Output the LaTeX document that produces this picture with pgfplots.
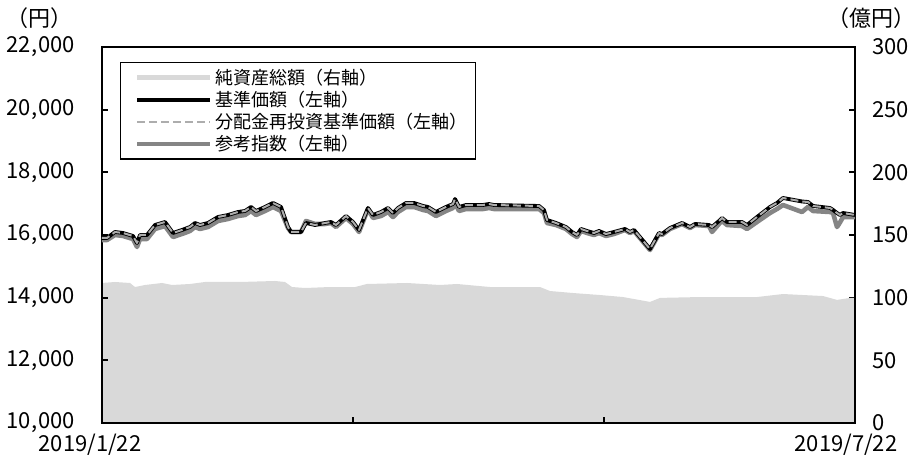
\documentclass[border=0pt]{standalone}
\usepackage{fontspec}
\setmainfont{Noto Sans CJK JP}
\usepackage{pgfplots}
\pgfplotsset{compat=1.18}
\usepackage{pgfplotstable}
\definecolor{areagray}{HTML}{D9D9D9}
\definecolor{refgray}{HTML}{858585}
\definecolor{dashgray}{HTML}{ADADAD}

\pgfplotstableread{
x base ref
0 15904 15840
5 15904 15840
13 16096 16000
21 16064 15968
31 15968 15872
35 15745 15617
38 16000 15872
45 16000 15872
53 16319 16192
63 16415 16287
71 16064 15936
80 16160 16032
88 16255 16128
93 16383 16255
98 16319 16192
106 16383 16255
116 16574 16447
126 16638 16511
136 16734 16606
143 16766 16638
149 16894 16766
154 16766 16638
163 16894 16766
171 17021 16894
179 16894 16766
186 16255 16223
189 16096 16096
199 16096 16096
204 16383 16447
213 16319 16351
223 16383 16351
229 16415 16383
234 16319 16255
244 16606 16543
251 16415 16351
257 16160 16096
266 16862 16830
271 16638 16543
279 16734 16606
286 16862 16734
291 16702 16574
296 16862 16734
304 17021 16894
312 17021 16894
321 16926 16798
326 16894 16766
334 16734 16606
344 16894 16766
351 16989 16862
353 17149 17021
357 16894 16766
364 16957 16830
381 16957 16830
387 16989 16862
392 16957 16830
437 16926 16830
442 16798 16702
445 16479 16383
454 16383 16319
464 16255 16192
470 16096 16032
475 16000 15936
479 16192 16128
485 16128 16064
492 16064 16000
497 16128 16064
504 16032 15968
512 16096 16032
523 16192 16160
528 16096 16064
532 16160 16128
548 15553 15521
557 16064 16032
560 16032 16000
568 16223 16192
580 16383 16351
588 16255 16223
593 16351 16319
607 16319 16287
610 16255 16096
617 16447 16351
620 16543 16447
625 16415 16319
640 16415 16287
645 16319 16192
655 16574 16415
668 16894 16702
675 17021 16830
681 17181 16957
700 17070 16734
706 17053 16894
711 16926 16766
728 16862 16734
731 16800 16702
735 16702 16255
738 16638 16400
741 16702 16574
753 16638 16574
}\prices

\pgfplotstableread{
x nav
0 111.7
13 112.5
28 111.7
33 108.5
43 110.1
60 111.7
70 110.1
88 110.9
103 112.5
138 112.5
173 113.3
183 112.5
190 108.5
203 107.7
228 108.5
253 108.5
265 110.9
305 111.7
338 110.1
355 110.9
388 108.5
438 108.5
448 105.3
471 103.7
498 102.1
521 100.5
548 96.6
558 99.8
598 100.5
655 100.5
681 102.9
721 101.3
735 98.2
748 99.8
753 99.8
}\assets

\begin{document}
\begin{tikzpicture}
\useasboundingbox (-51pt,-18pt) rectangle (407.5pt,211.5pt);
% right axis: net assets
\begin{axis}[
  at={(0,0)}, anchor=south west,
  scale only axis, width=376.5pt, height=188pt,
  xmin=0, xmax=753, ymin=0, ymax=300,
  axis x line=none, axis y line*=right,
  axis line style={line width=0.9pt},
  ytick={0,50,...,300}, tick align=inside,
  major tick length=3pt,
  tick style={line width=0.9pt, black},
  yticklabel style={font=\fontsize{11}{13}\selectfont, xshift=5pt},
  /pgf/number format/assume math mode=true,
]
\addplot[fill=areagray, draw=none] table[x=x, y=nav]{\assets} \closedcycle;
\end{axis}
% left axis: prices
\begin{axis}[
  at={(0,0)}, anchor=south west,
  scale only axis, width=376.5pt, height=188pt,
  xmin=0, xmax=753, ymin=10000, ymax=22000,
  axis line style={line width=0.9pt},
  ytick={10000,12000,...,22000}, ytick pos=left,
  scaled y ticks=false,
  xtick={0,251,502,753}, xtick pos=bottom, xticklabels={},
  tick align=inside, major tick length=3pt,
  tick style={line width=0.9pt, black},
  yticklabel style={font=\fontsize{11}{13}\selectfont, xshift=-10pt,
    /pgf/number format/fixed, /pgf/number format/precision=0,
    /pgf/number format/1000 sep={,\hspace{0.05em}}},
  /pgf/number format/assume math mode=true,
  legend image code/.code={\path (0pt,0pt); \draw[#1] (4.5pt,0pt) -- (41pt,0pt);},
  legend cell align=left,
  legend style={at={(0.024,0.96)}, anchor=north west, draw=black,
    line width=0.6pt, font=\fontsize{9}{11}\selectfont,
    inner xsep=2.5pt, inner ysep=1.5pt, row sep=-1.2pt,
    nodes={inner sep=1.5pt}},
]
\addlegendimage{line width=2.6pt, areagray}
\addlegendentry{純資産総額（右軸）}
\addlegendimage{line width=2pt, black}
\addlegendentry{基準価額（左軸）}
\addlegendimage{line width=1.1pt, dashgray, dash pattern=on 4pt off 2pt}
\addlegendentry{分配金再投資基準価額（左軸）}
\addlegendimage{line width=2.2pt, refgray}
\addlegendentry{参考指数（左軸）}
\addplot[forget plot, refgray, line width=2.3pt, line join=round] table[x=x, y=ref]{\prices};
\addplot[forget plot, black, line width=1.9pt, line join=round] table[x=x, y=base]{\prices};
\addplot[forget plot, dashgray, line width=1pt, line join=round, dash pattern=on 4pt off 2pt] table[x=x, y=base]{\prices};
\end{axis}
\node[font=\fontsize{11}{13}\selectfont] at (-31pt,202.5pt) {（円）};
\node[font=\fontsize{11}{13}\selectfont, anchor=east, inner sep=0pt] at (407pt,202.5pt) {（億円）};
\node[font=\fontsize{11}{13}\selectfont] at (-6pt,-11pt) {2019/1/22};
\node[font=\fontsize{11}{13}\selectfont] at (372pt,-11pt) {2019/7/22};
\end{tikzpicture}
\end{document}
